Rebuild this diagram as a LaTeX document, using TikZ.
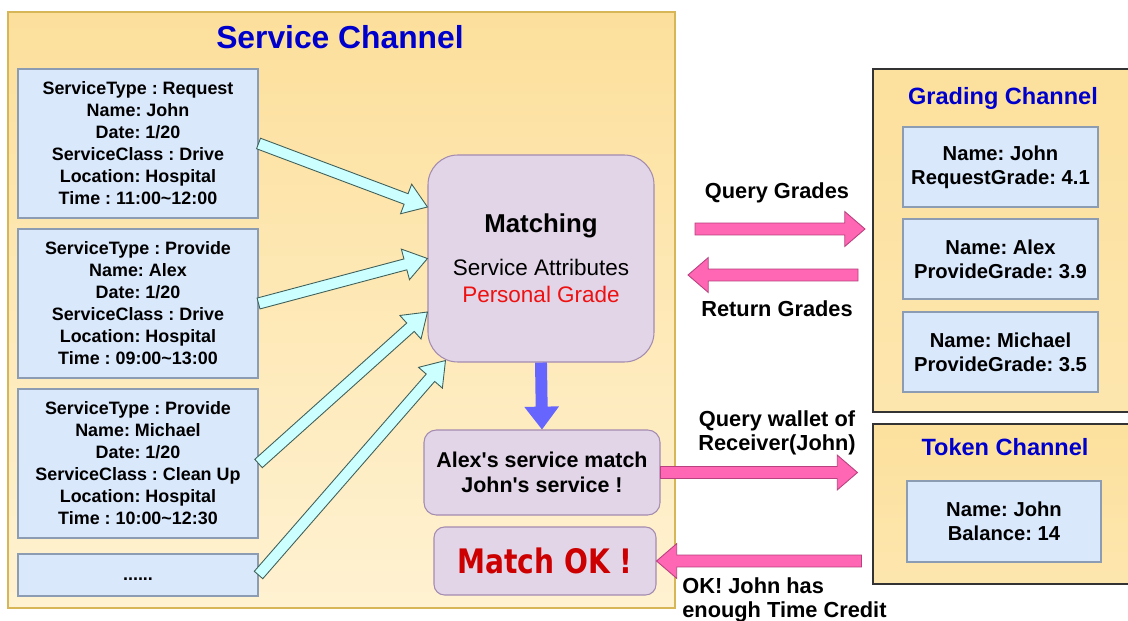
\documentclass[tikz,border=0pt]{standalone}
\usepackage{fontspec}
\setmainfont{Liberation Sans}
\newfontfamily\casualfont{DejaVu Sans}
\usetikzlibrary{calc}
\frenchspacing

\definecolor{chanTop}{HTML}{FCDF9B}
\definecolor{chanBot}{HTML}{FFF2D2}
\definecolor{sideTop}{HTML}{FCE09D}
\definecolor{sideBot}{HTML}{FDE6AE}
\definecolor{chanEdge}{HTML}{D6B656}
\definecolor{boxEdge}{HTML}{333333}
\definecolor{recFill}{HTML}{DAE8FC}
\definecolor{recEdge}{HTML}{8C9DB3}
\definecolor{procFill}{HTML}{E1D5E7}
\definecolor{procEdge}{HTML}{A48BB0}
\definecolor{titleBlue}{HTML}{0000CC}
\definecolor{gradeRed}{HTML}{EE1111}
\definecolor{okRed}{HTML}{CC0000}
\definecolor{cyanFill}{HTML}{CCFFFF}
\definecolor{cyanEdge}{HTML}{3F5F58}
\definecolor{pinkFill}{HTML}{FF66B3}
\definecolor{pinkEdge}{HTML}{B8417F}
\definecolor{downBlue}{HTML}{6666FF}

\def\u{0.02cm}

\tikzset{
  % block arrow drawn as a closed outline from start to target:
  % #1 half shaft width, #2 half head width, #3 head length
  fatarrow/.style n args={3}{to path={
    let \p1=(\tikztostart), \p2=(\tikztotarget), \p3=($(\p2)!#3!(\p1)$) in
    ($(\p1)!#1!90:(\p2)$) -- ($(\p3)!#1!90:(\p2)$) -- ($(\p3)!#2!90:(\p2)$)
    -- (\p2) -- ($(\p3)!#2!-90:(\p2)$) -- ($(\p3)!#1!-90:(\p2)$)
    -- ($(\p1)!#1!-90:(\p2)$) -- cycle}},
  cyanarrow/.style={fatarrow={3.2pt}{9pt}{13pt}, fill=cyanFill, draw=cyanEdge, line width=0.5pt},
  pinkarrow/.style={fatarrow={3.4pt}{9.9pt}{11.5pt}, fill=pinkFill, draw=pinkEdge, line width=0.5pt},
  bluearrow/.style={fatarrow={3.4pt}{9.9pt}{13pt}, fill=downBlue, draw=none},
  chan/.style={line width=0.6pt, top color=chanTop, bottom color=chanBot, inner sep=0pt},
  sidechan/.style={chan, draw=boxEdge, top color=sideTop, bottom color=sideBot},
  chantitle/.style={text=titleBlue, font=\fontsize{13.4}{16}\selectfont\bfseries, inner sep=0pt},
  record/.style={draw=recEdge, fill=recFill, line width=0.6pt, align=center, inner sep=0pt,
    font=\fontsize{10.2}{12.5}\selectfont\bfseries},
  grade/.style={record, font=\fontsize{11.5}{13.6}\selectfont\bfseries},
  proc/.style={draw=procEdge, fill=procFill, line width=0.6pt, align=center, inner sep=0pt},
  msg/.style={align=center, inner sep=0pt, font=\fontsize{12.4}{13.6}\selectfont\bfseries}
}

\begin{document}
\begin{tikzpicture}[x=0.02cm, y=-0.02cm]
\fill[white] (0,0) rectangle (1128,621);
\useasboundingbox (0,0) rectangle (1128,621);
\clip (0,0) rectangle (1128,621);

% ---- service channel ----
\node[chan, draw=chanEdge, minimum width=667*\u, minimum height=596*\u] (svc) at (341.5,310) {};
\node[chantitle, font=\fontsize{18.1}{20}\selectfont\bfseries] (svcT) at (340,37) {Service Channel};

\node[record, minimum width=240*\u, minimum height=149*\u] (r1) at (138,143.5)
  {ServiceType : Request\\Name: John\\Date: 1/20\\ServiceClass : Drive\\Location: Hospital\\Time : 11:00\textasciitilde12:00};
\node[record, minimum width=240*\u, minimum height=149*\u] (r2) at (138,303.5)
  {ServiceType : Provide\\Name: Alex\\Date: 1/20\\ServiceClass : Drive\\Location: Hospital\\Time : 09:00\textasciitilde13:00};
\node[record, minimum width=240*\u, minimum height=149*\u] (r3) at (138,463.5)
  {ServiceType : Provide\\Name: Michael\\Date: 1/20\\ServiceClass : Clean Up\\Location: Hospital\\Time : 10:00\textasciitilde12:30};
\node[record, minimum width=240*\u, minimum height=42*\u, text depth=0pt] (r4) at (138,575)
  {\raisebox{-3pt}{......}};

\node[proc, rounded corners=17pt, minimum width=226*\u, minimum height=207*\u,
  font=\fontsize{12.8}{15.3}\selectfont] (match) at (541,258.5)
  {{\fontsize{14.7}{17}\selectfont\bfseries Matching}\\[9pt]Service Attributes\\\textcolor{gradeRed}{Personal Grade}};

\node[proc, rounded corners=7pt, minimum width=236*\u, minimum height=85*\u,
  font=\fontsize{12.2}{14.2}\selectfont\bfseries] (alex) at (542,472.5)
  {Alex\textquotesingle s service match\\John\textquotesingle s service !};

\node[proc, rounded corners=6pt, minimum width=222*\u, minimum height=68*\u] (ok) at (545,561)
  {\scalebox{1}[1.2]{\casualfont\fontsize{16}{18}\selectfont\bfseries\color{okRed}Match OK !}};

% ---- grading channel ----
\node[sidechan, minimum width=267*\u, minimum height=343*\u] (grd) at (1006.5,240.5) {};
\node[chantitle] (grdT) at (1003,98) {Grading Channel};
\node[grade, minimum width=195*\u, minimum height=80*\u] (g1) at (1000.5,167) {Name: John\\RequestGrade: 4.1};
\node[grade, minimum width=195*\u, minimum height=80*\u] (g2) at (1000.5,259) {Name: Alex\\ProvideGrade: 3.9};
\node[grade, minimum width=195*\u, minimum height=80*\u] (g3) at (1000.5,352) {Name: Michael\\ProvideGrade: 3.5};

% ---- token channel ----
\node[sidechan, minimum width=267*\u, minimum height=160*\u] (tok) at (1006.5,504) {};
\node[chantitle] (tokT) at (1005,447) {Token Channel};
\node[grade, minimum width=194*\u, minimum height=81*\u] (t1) at (1004,521.5) {Name: John\\Balance: 14};

% ---- connector end points ----
\coordinate (m1) at ($(match.west)+(0,-51.5)$);
\coordinate (m3) at ($(match.west)+(0,53.5)$);
\coordinate (m4) at ($(match.south west)+(18,-2)$);
\coordinate (qgTail) at (695,229);
\coordinate (qgTip) at (865,229);
\coordinate (rgTail) at (858,275);
\coordinate (rgTip) at (688,275);
\coordinate (walletTip) at ($(alex.east -| tok.west)+(-15,0)$);
\coordinate (creditTail) at ($(ok.east -| tok.west)+(-11,0)$);

% ---- arrows ----
\draw[cyanarrow] (r1.east) to (m1);
\draw[cyanarrow] (r2.east) to (match.west);
\draw[cyanarrow] (r3.east) to (m3);
\draw[cyanarrow] (r4.east) to (m4);
\path[bluearrow] (match.south) to (alex.north);
\draw[pinkarrow] (qgTail) to (qgTip);
\draw[pinkarrow] (rgTail) to (rgTip);
\draw[pinkarrow] (alex.east) to (walletTip);
\draw[pinkarrow] (creditTail) to (ok.east);

% ---- message labels ----
\node[msg] (lq) at (777,193) {Query Grades};
\node[msg] (lr) at (777,309) {Return Grades};
\node[msg] (lw) at (777,432.5) {Query wallet of\\Receiver(John)};
\node[msg, align=left, anchor=west] (lc) at (682,600) {OK! John has\\enough Time Credit};
\end{tikzpicture}
\end{document}
